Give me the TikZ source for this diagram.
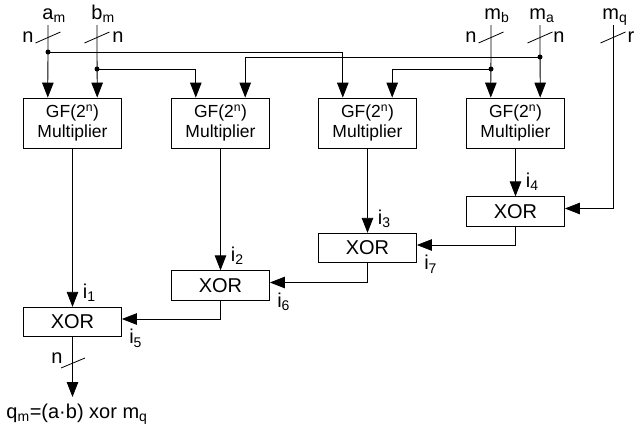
\documentclass[tikz,border=0pt]{standalone}
\usepackage{fontspec}
\setmainfont{Liberation Sans}
\usetikzlibrary{arrows.meta, calc}

\begin{document}
\begin{tikzpicture}[x = 1pt, y = -1pt, > = {Triangle[length = 15pt, width = 11.5pt]},
	line width = 0.8pt,
	every node/.style = {font = \fontsize{20}{24}\selectfont},
	mult/.style = {draw, minimum width = 98pt, minimum height = 50pt, inner sep = 0pt, align = center, font = \fontsize{17.5}{20}\selectfont},
	xorbox/.style = {draw, minimum width = 98pt, minimum height = 29.5pt, inner sep = 0pt, font = \fontsize{20}{24}\selectfont},
	sig/.style = {inner sep = 0pt},
	ilab/.style = {sig, pos = 1, anchor = south west, xshift = 10pt, yshift = 5pt},
	olab/.style = {sig, pos = 1, anchor = north west, xshift = 7pt, yshift = -10pt}]

	\useasboundingbox (0, 0) rectangle (635, 429);

	% Multipliers
	
	\node [mult] (m1) at (72.5, 123) {GF(2\textsuperscript{n})\\Multiplier};
	\node [mult] (m2) at (220.5, 123) {GF(2\textsuperscript{n})\\Multiplier};
	\node [mult] (m3) at (367.5, 123) {GF(2\textsuperscript{n})\\Multiplier};
	\node [mult] (m4) at (515.5, 123) {GF(2\textsuperscript{n})\\Multiplier};
	
	\foreach \m in {1, ..., 4} {
		\coordinate (m\m-l) at ($(m\m.north west)!0.25!(m\m.north east)$);
		\coordinate (m\m-r) at ($(m\m.north west)!0.75!(m\m.north east)$);
	}
	
	% XOR chain
	
	\node [xorbox] (x4) at (515.5, 211.5) {XOR};
	\node [xorbox] (x3) at (367.5, 248) {XOR};
	\node [xorbox] (x2) at (220.5, 285.5) {XOR};
	\node [xorbox] (x1) at (72.5, 322) {XOR};
	
	% Inputs + bus marks
	
	\foreach \name/\x in {am/48, bm/97, mb/491, ma/540, mq/613} {
		\coordinate (\name) at (\x, 25);
		\draw (\x - 12.5, 43) -- (\x + 12.5, 32);
	}
	
	\node [sig, anchor = base west] (lam) at (42, 19) {a\textsubscript{m}};
	\node [sig, anchor = base west] (lbm) at (91, 19) {b\textsubscript{m}};
	\node [sig, anchor = base west] (lmb) at (484, 19) {m\textsubscript{b}};
	\node [sig, anchor = base west] (lma) at (529, 19) {m\textsubscript{a}};
	\node [sig, anchor = base west] (lmq) at (602, 19) {m\textsubscript{q}};
	
	\node [sig] (nam) at (28, 37) {n};
	\node [sig] (nbm) at (118, 37) {n};
	\node [sig] (nmb) at (471, 37) {n};
	\node [sig] (nma) at (559, 37) {n};
	\node [sig] (nmq) at (631, 37) {r};
	
	% Operand routing
	
	\coordinate (ja) at (48, 52);
	\coordinate (jb) at (97, 69);
	\coordinate (jmb) at (491, 69);
	\coordinate (jma) at (540, 57);
	
	\draw [->] (am) -- (m1-l);
	\draw [->] (ja) -| (m3-l);
	\draw [->] (bm) -- (m1-r);
	\draw [->] (jb) -| (m2-l);
	\draw [->] (mb) -- (m4-l);
	\draw [->] (jmb) -| (m3-r);
	\draw [->] (ma) -- (m4-r);
	\draw [->] (jma) -| (m2-r);
	\draw [->] (mq) |- ([yshift = 3pt]x4.east);
	
	\foreach \j in {ja, jb, jmb, jma}
		\fill (\j) circle (2.5pt);
	
	% Products into XORs
	
	\draw [->] (m1.south) -- (x1.north) node [ilab] (i1) {i\textsubscript{1}};
	\draw [->] (m2.south) -- (x2.north) node [ilab] (i2) {i\textsubscript{2}};
	\draw [->] (m3.south) -- (x3.north) node [ilab] (i3) {i\textsubscript{3}};
	\draw [->] (m4.south) -- (x4.north) node [ilab] (i4) {i\textsubscript{4}};
	
	\draw [->] (x4.south) |- ([yshift = 3pt]x3.east) node [olab] (i7) {i\textsubscript{7}};
	\draw [->] (x3.south) |- ([yshift = 3pt]x2.east) node [olab] (i6) {i\textsubscript{6}};
	\draw [->] (x2.south) |- ([yshift = 3pt]x1.east) node [olab] (i5) {i\textsubscript{5}};
	
	% Output
	
	\coordinate (qm) at (72.5, 397);
	\draw [->] (x1.south) -- (qm);
	\draw (61, 368) -- (85, 358);
	\node [sig] (nq) at (57, 358) {n};
	\node [sig] (out) at (77, 414) {q\textsubscript{m}=(a·b) xor m\textsubscript{q}};

\end{tikzpicture}
\end{document}
